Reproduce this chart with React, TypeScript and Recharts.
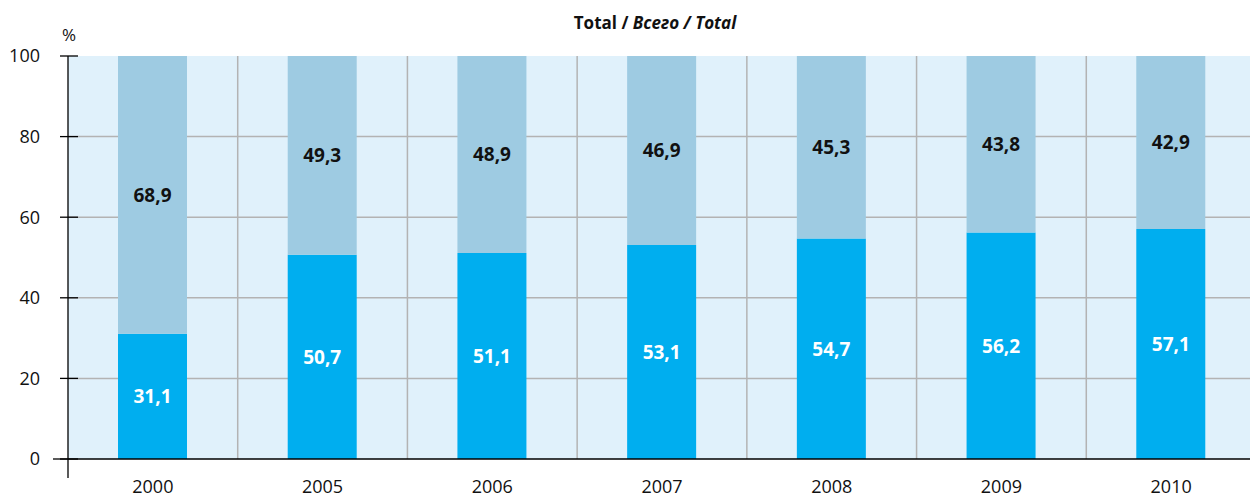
import { Bar, BarChart, CartesianGrid, LabelList, XAxis, YAxis } from 'recharts'

const years = ['2000', '2005', '2006', '2007', '2008', '2009', '2010']
const shareDark = [31.1, 50.7, 51.1, 53.1, 54.7, 56.2, 57.1]
const shareLight = [68.9, 49.3, 48.9, 46.9, 45.3, 43.8, 42.9]
const yTicks = [0, 20, 40, 60, 80, 100]
const gridValues = [20, 40, 60, 80]
const edgeTicks = [0, 1, 2, 3, 4, 5, 6, 7]

const FONT = '"Open Sans", "Noto Sans", sans-serif'

const chartData = years.map((year, i) => ({ year, dark: shareDark[i], light: shareLight[i] }))

const fmt = (v: any) => String(v).replace('.', ',')

function YTick(props: any) {
  const { x, y, payload } = props
  return (
    <g>
      <line x1={x - 8} x2={x + 10} y1={y} y2={y} stroke="#000" strokeWidth={1.3} />
      <text x={x - 28} y={y} dy="0.36em" textAnchor="end" fontSize={18} fontFamily={FONT} fill="#111">
        {payload.value}
      </text>
      {payload.value === 0 && (
        <>
          <line x1={x - 15} x2={x} y1={y} y2={y} stroke="#000" strokeWidth={1.3} />
          <line x1={x} x2={x} y1={y} y2={y + 19} stroke="#000" strokeWidth={1.3} />
        </>
      )}
    </g>
  )
}

function EdgeTick(props: any) {
  const { x, y, payload } = props
  if (payload.value === 0) return <g />
  return <line x1={x} x2={x} y1={y - 8} y2={y + 9} stroke="#000" strokeWidth={1.3} />
}

export default function App() {
  const W = 1250
  const H = 492
  return (
    <div style={{ position: 'relative', width: W, height: H, fontFamily: FONT }}>
      <div
        style={{
          position: 'absolute',
          left: 0,
          width: 1294,
          top: 3,
          textAlign: 'center',
          fontSize: 17,
          fontWeight: 700,
          color: '#111',
        }}
      >
        Total / <i>Всего / Total</i>
      </div>
      <div style={{ position: 'absolute', left: 54, top: 15, fontSize: 17, color: '#111' }}>%</div>
      <BarChart
        width={W}
        height={H}
        data={chartData}
        margin={{ top: 48, right: 2, bottom: 0, left: 0 }}
        barSize={69}
      >
        <CartesianGrid
          fill="#e0f1fb"
          stroke="#b3b3b3"
          strokeWidth={1.5}
          verticalCoordinatesGenerator={({ offset }: any) =>
            [1, 2, 3, 4, 5, 6].map((i) => offset.left + (offset.width * i) / 7)
          }
          horizontalCoordinatesGenerator={({ offset }: any) =>
            gridValues.map((v) => offset.top + offset.height * (1 - v / 100))
          }
        />
        <XAxis
          xAxisId="edges"
          type="number"
          domain={[0, 7]}
          ticks={edgeTicks}
          height={0}
          axisLine={false}
          tickLine={false}
          tickSize={0}
          tickMargin={0}
          tick={<EdgeTick />}
          interval={0}
        />
        <XAxis
          dataKey="year"
          height={41}
          axisLine={{ stroke: '#000', strokeWidth: 1.3 }}
          tickLine={false}
          tickSize={0}
          tickMargin={21}
          tick={{ fontSize: 18, fontFamily: FONT, fill: '#111' }}
          interval={0}
        />
        <YAxis
          width={60}
          domain={[0, 100]}
          ticks={yTicks}
          axisLine={{ stroke: '#000', strokeWidth: 1.3 }}
          tickLine={false}
          tickSize={0}
          tickMargin={0}
          tick={<YTick />}
          interval={0}
        />
        <Bar dataKey="dark" stackId="s" fill="#00aeef" isAnimationActive={false}>
          <LabelList
            dataKey="dark"
            position="center"
            formatter={fmt}
            fill="#fff"
            fontSize={19}
            fontWeight={700}
            fontFamily={FONT}
          />
        </Bar>
        <Bar dataKey="light" stackId="s" fill="#9ecbe2" isAnimationActive={false}>
          <LabelList
            dataKey="light"
            position="center"
            formatter={fmt}
            fill="#111"
            fontSize={19}
            fontWeight={700}
            fontFamily={FONT}
          />
        </Bar>
      </BarChart>
    </div>
  )
}
